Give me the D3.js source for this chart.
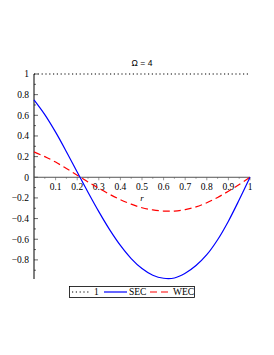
<!DOCTYPE html>
<html>
<head>
<meta charset="utf-8">
<script src="https://cdn.jsdelivr.net/npm/d3@7"></script>
<style>
  body { margin: 0; background: #fff; }
  svg { display: block; }
</style>
</head>
<body>
<div id="chart"></div>
<script>
// valores (r de 0 a 1, passo 0.05)
const rVals = [0, 0.05, 0.1, 0.15, 0.2, 0.25, 0.3, 0.35, 0.4, 0.45, 0.5,
  0.55, 0.6, 0.65, 0.7, 0.75, 0.8, 0.85, 0.9, 0.95, 1];
const secVals = [0.75, 0.607, 0.437, 0.248, 0.051, -0.145, -0.333, -0.507, -0.66, -0.787, -0.884,
  -0.949, -0.978, -0.975, -0.93, -0.855, -0.75, -0.605, -0.425, -0.218, 0];
const wecVals = [0.246, 0.2, 0.147, 0.085, 0.02, -0.045, -0.107, -0.165, -0.217, -0.26, -0.295,
  -0.316, -0.327, -0.327, -0.313, -0.287, -0.247, -0.195, -0.135, -0.07, 0];
const oneVal = 1;
const xTicks = [0.1, 0.2, 0.3, 0.4, 0.5, 0.6, 0.7, 0.8, 0.9, 1];
const yTicks = [-0.8, -0.6, -0.4, -0.2, 0, 0.2, 0.4, 0.6, 0.8, 1];
const legendItems = ["1", "SEC", "WEC"];
const titulo = "\u03A9 = 4";

const W = 274, H = 355;
const x = d3.scaleLinear().domain([0, 1]).range([34, 250]);
const y = d3.scaleLinear().domain([-0.985, 1]).range([279, 74]);

const svg = d3.select("#chart").append("svg")
  .attr("width", W).attr("height", H);

const serif = "'Liberation Serif', 'DejaVu Serif', serif";

// eixo y
const yAxis = svg.append("g").attr("transform", `translate(${x(0)},0)`);
yAxis.append("line")
  .attr("y1", y(1)).attr("y2", y(-0.985))
  .attr("stroke", "#000").attr("stroke-width", 1);
yAxis.selectAll("line.tk").data(d3.range(-9, 11).map(d => d / 10))
  .join("line").attr("class", "tk")
  .attr("x1", 0).attr("x2", d => Math.round(d * 10) % 2 === 0 ? 4 : 2)
  .attr("y1", d => y(d)).attr("y2", d => y(d))
  .attr("stroke", "#000").attr("stroke-width", 0.6);
yAxis.selectAll("text").data(yTicks).join("text")
  .attr("x", -5).attr("y", d => y(d)).attr("dy", "0.35em")
  .attr("text-anchor", "end")
  .attr("font-family", serif).attr("font-size", "9.5px")
  .text(d => d < 0 ? "\u2212" + d3.format("")(-d) : d3.format("")(d));

// eixo x
const xAxis = svg.append("g").attr("transform", `translate(0,${y(0)})`);
xAxis.append("line")
  .attr("x1", x(0)).attr("x2", x(1))
  .attr("stroke", "#555").attr("stroke-width", 1);
xAxis.selectAll("line.tk").data(d3.range(1, 21).map(d => d / 20))
  .join("line").attr("class", "tk")
  .attr("x1", d => x(d)).attr("x2", d => x(d))
  .attr("y1", 0).attr("y2", (d, i) => i % 2 ? 3 : 1.5)
  .attr("stroke", "#555").attr("stroke-width", 0.6);
xAxis.selectAll("text").data(xTicks).join("text")
  .attr("x", d => x(d)).attr("y", 9.5).attr("dy", "0.35em")
  .attr("text-anchor", "middle")
  .attr("font-family", serif).attr("font-size", "9.5px")
  .text(d => d3.format("")(d));
svg.append("text")
  .attr("x", x(0.5)).attr("y", 200.5)
  .attr("text-anchor", "middle")
  .attr("font-family", serif).attr("font-style", "italic").attr("font-size", "9px")
  .text("r");

// título
svg.append("text")
  .attr("x", x(0.5)).attr("y", 66)
  .attr("text-anchor", "middle")
  .attr("font-family", "'Liberation Sans', sans-serif").attr("font-size", "8.5px")
  .text(titulo);

// curvas
const line = d3.line().x(d => x(d[0])).y(d => y(d[1])).curve(d3.curveCatmullRom);
svg.append("line")
  .attr("x1", x(0)).attr("x2", x(1)).attr("y1", y(oneVal)).attr("y2", y(oneVal))
  .attr("stroke", "#000").attr("stroke-width", 1.2).attr("stroke-dasharray", "1.2,2.6");
svg.append("path")
  .datum(rVals.map((r, i) => [r, wecVals[i]]))
  .attr("d", line).attr("fill", "none")
  .attr("stroke", "#f00").attr("stroke-width", 1.2).attr("stroke-dasharray", "7,4");
svg.append("path")
  .datum(rVals.map((r, i) => [r, secVals[i]]))
  .attr("d", line).attr("fill", "none")
  .attr("stroke", "#00f").attr("stroke-width", 1.2);

// legenda
const lg = svg.append("g");
lg.append("rect")
  .attr("x", 69.5).attr("y", 286.5).attr("width", 125).attr("height", 11)
  .attr("fill", "#fff").attr("stroke", "#000").attr("stroke-width", 0.8);
const amostras = [
  { x0: 72, x1: 90, tx: 94, stroke: "#000", dash: "1.2,2.6" },
  { x0: 104, x1: 127, tx: 129, stroke: "#00f", dash: null },
  { x0: 150, x1: 170, tx: 173, stroke: "#f00", dash: "7,4" }
];
amostras.forEach((a, i) => {
  lg.append("line")
    .attr("x1", a.x0).attr("x2", a.x1).attr("y1", 292).attr("y2", 292)
    .attr("stroke", a.stroke).attr("stroke-width", 1.2)
    .attr("stroke-dasharray", a.dash);
  lg.append("text")
    .attr("x", a.tx).attr("y", 292).attr("dy", "0.35em")
    .attr("font-family", serif).attr("font-size", "9.5px")
    .text(legendItems[i]);
});
</script>
</body>
</html>
